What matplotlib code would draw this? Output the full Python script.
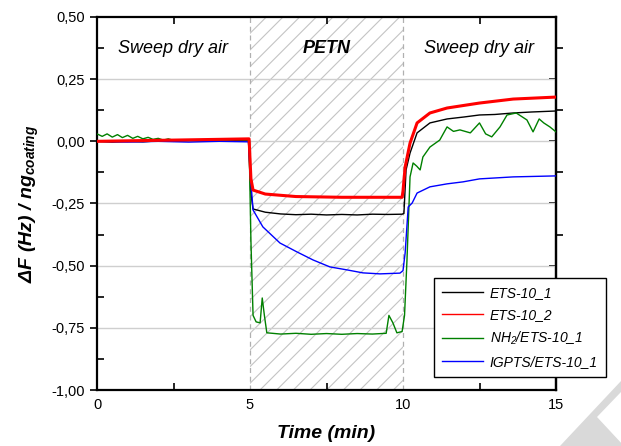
import matplotlib
matplotlib.use("Agg")
import matplotlib.pyplot as plt
from matplotlib.ticker import MultipleLocator, FuncFormatter, NullFormatter
from matplotlib.patches import Polygon

plt.rcParams['font.family'] = ['Liberation Sans', 'DejaVu Sans']
plt.rcParams['mathtext.fontset'] = 'custom'
plt.rcParams['mathtext.rm'] = 'Liberation Sans:italic'
plt.rcParams['mathtext.it'] = 'Liberation Sans:italic'
plt.rcParams['mathtext.bf'] = 'Liberation Sans:bold:italic'
plt.rcParams['hatch.color'] = '#c4c4c4'
plt.rcParams['hatch.linewidth'] = 0.8

# ---- data ----
labels = ['ETS-10_1', 'ETS-10_2', 'NH$_2$/ETS-10_1', 'IGPTS/ETS-10_1']
colors = ['black', 'red', 'green', 'blue']

t_black = [0, 0.5, 1, 1.5, 2, 2.5, 3, 3.5, 4, 4.5, 4.95, 5.02, 5.1, 5.5, 6.0, 6.5, 7, 7.5, 8, 8.5, 9, 9.5,
           9.97, 10.03, 10.1, 10.23, 10.46, 10.88, 11.44, 12.0, 12.5, 13.0, 13.6, 14.2, 15]
v_black = [0, -0.003, 0, -0.002, 0.002, 0, 0.003, 0.002, 0.004, 0.003, 0.004, -0.2, -0.272, -0.285, -0.292,
           -0.295, -0.293, -0.296, -0.294, -0.296, -0.293, -0.294, -0.293, -0.29, -0.115, -0.047, 0.034, 0.074,
           0.09, 0.098, 0.106, 0.108, 0.114, 0.118, 0.122]

t_red = [0, 1, 2, 3, 4, 4.97, 5.03, 5.1, 5.5, 6.5, 8, 9.97, 10.0, 10.07, 10.23, 10.46, 10.88, 11.44,
         12.5, 13.6, 15]
v_red = [0, 0.002, 0.004, 0.006, 0.008, 0.01, -0.15, -0.196, -0.212, -0.222, -0.225, -0.225, -0.2, -0.103,
         -0.007, 0.074, 0.114, 0.134, 0.154, 0.17, 0.178]

t_green = [0, 0.17, 0.33, 0.5, 0.67, 0.83, 1.0, 1.17, 1.33, 1.5, 1.67, 1.83, 2.0, 2.17, 2.33, 2.5, 3.0,
           3.5, 4.0, 4.5, 4.97, 5.03, 5.1, 5.2, 5.33, 5.4, 5.47, 5.55, 6.0, 6.5, 7.0, 7.5, 8.0, 8.5, 9.0,
           9.45, 9.54, 9.67, 9.8, 9.97, 10.05, 10.13, 10.23, 10.33, 10.45, 10.56, 10.65, 10.88, 11.2, 11.44,
           11.65, 11.86, 12.2, 12.5, 12.7, 12.9, 13.17, 13.4, 13.7, 14.05, 14.25, 14.45, 14.6, 14.8, 15]
v_green = [0.03, 0.02, 0.03, 0.017, 0.027, 0.015, 0.024, 0.012, 0.02, 0.01, 0.016, 0.008, 0.012, 0.005,
           0.01, 0.004, 0.006, 0.002, 0.004, 0.0, 0.002, -0.4, -0.7, -0.726, -0.73, -0.63, -0.7, -0.77,
           -0.775, -0.772, -0.776, -0.773, -0.776, -0.773, -0.775, -0.772, -0.70, -0.73, -0.77, -0.765,
           -0.7, -0.477, -0.143, -0.087, -0.1, -0.115, -0.063, -0.023, 0.005, 0.058, 0.04, 0.046, 0.034,
           0.074, 0.03, 0.018, 0.058, 0.106, 0.114, 0.086, 0.038, 0.09, 0.074, 0.058, 0.038]

t_blue = [0, 1, 2, 3, 4, 4.95, 5.02, 5.1, 5.42, 5.98, 6.54, 7.06, 7.61, 8.17, 8.69, 9.25, 9.9, 10.0, 10.07,
          10.17, 10.3, 10.46, 10.88, 11.44, 11.96, 12.5, 13.6, 15]
v_blue = [0, -0.003, 0, -0.003, 0, -0.002, -0.15, -0.276, -0.344, -0.409, -0.445, -0.477, -0.505, -0.517,
          -0.529, -0.533, -0.53, -0.52, -0.449, -0.264, -0.248, -0.208, -0.183, -0.171, -0.163, -0.151,
          -0.143, -0.139]

series_t = [t_black, t_red, t_green, t_blue]
series_v = [v_black, v_red, v_green, v_blue]
widths = [1.0, 2.2, 1.0, 1.0]
zorders = [3, 6, 4, 5]

region_labels = ['Sweep dry air', 'PETN', 'Sweep dry air']
region_x = [2.5, 7.5, 12.5]
yticks = [-1.0, -0.75, -0.5, -0.25, 0.0, 0.25, 0.5]
xticks = [0, 5, 10, 15]

# ---- figure ----
fig = plt.figure(figsize=(6.21, 4.46), dpi=100)
ax = fig.add_axes([97 / 621, 1 - 390 / 446, 459 / 621, 373 / 446])

ax.set_xlim(0, 15)
ax.set_ylim(-1.0, 0.5)

ax.axvspan(5, 10, facecolor='none', edgecolor='#c4c4c4', hatch='//', linewidth=0, zorder=1)
for xv in (5, 10):
    ax.axvline(xv, color='#b0b0b0', linestyle=(0, (4, 3)), linewidth=0.9, zorder=1.5)

for yv in yticks[1:-1]:
    ax.axhline(yv, color='#cfcfcf', linewidth=1.0, zorder=1.2)

handles = []
for t, v, c, lab, w, z in zip(series_t, series_v, colors, labels, widths, zorders):
    h, = ax.plot(t, v, color=c, lw=w, label=lab, zorder=z)
    handles.append(h)

for x, s in zip(region_x, region_labels):
    if s == 'PETN':
        ax.text(x, 0.375, s, ha='center', va='center', fontsize=13, style='italic', fontweight='bold')
    else:
        ax.text(x, 0.375, s, ha='center', va='center', fontsize=13, style='italic')

ax.set_xticks(xticks)
ax.set_yticks(yticks)
ax.xaxis.set_minor_locator(MultipleLocator(2.5))
ax.yaxis.set_minor_locator(MultipleLocator(0.125))
ax.yaxis.set_major_formatter(FuncFormatter(lambda v, p: f'{v:.2f}'.replace('.', ',')))
ax.xaxis.set_major_formatter(FuncFormatter(lambda v, p: f'{v:.0f}'))

ax.yaxis.set_tick_params(which='major', direction='out', length=5, width=1.2, labelsize=10.5, left=True, right=False)
ax.yaxis.set_tick_params(which='minor', direction='in', length=5, width=1.2, left=True, right=False)
ax.xaxis.set_tick_params(which='major', length=0, pad=6, labelsize=10.5, top=False)
ax.xaxis.set_tick_params(which='minor', direction='in', length=5, width=1.2, bottom=True, top=True)

sec = ax.secondary_yaxis('right')
sec.set_yticks(yticks)
sec.yaxis.set_minor_locator(MultipleLocator(0.125))
sec.yaxis.set_major_formatter(NullFormatter())
sec.yaxis.set_tick_params(which='major', direction='in', length=5, width=1.2)
sec.yaxis.set_tick_params(which='minor', direction='out', length=5, width=1.2)
sec.spines['right'].set_linewidth(1.6)

for sp in ax.spines.values():
    sp.set_linewidth(1.6)

ax.set_xlabel('Time (min)', fontsize=14, fontweight='bold', style='italic', labelpad=9)
ax.set_ylabel(r'$\mathbf{\Delta F\ (Hz)\ /\ ng_{coating}}$', fontsize=14, labelpad=8)

leg = fig.legend(handles=handles, loc='upper left', bbox_to_anchor=(434 / 621, 1 - 278 / 446),
                 borderaxespad=0, frameon=True, fancybox=False, edgecolor='black', framealpha=1,
                 prop={'style': 'italic', 'size': 10}, handlelength=2.9, handletextpad=0.5,
                 borderpad=0.6, labelspacing=0.55)
leg.get_frame().set_linewidth(1.0)
for lh in leg.get_lines():
    lh.set_linewidth(1.0)
leg.set_zorder(10)

# watermark chevron
W, H = 621, 446
pts = [(560, 446), (621, 381), (621, 392), (597, 417), (624, 446)]
fig.patches.append(Polygon([(x / W, 1 - y / H) for x, y in pts], closed=True, transform=fig.transFigure,
                           facecolor='#d9d9d9', edgecolor='none', zorder=0))

fig.savefig('out.png', dpi=100)
